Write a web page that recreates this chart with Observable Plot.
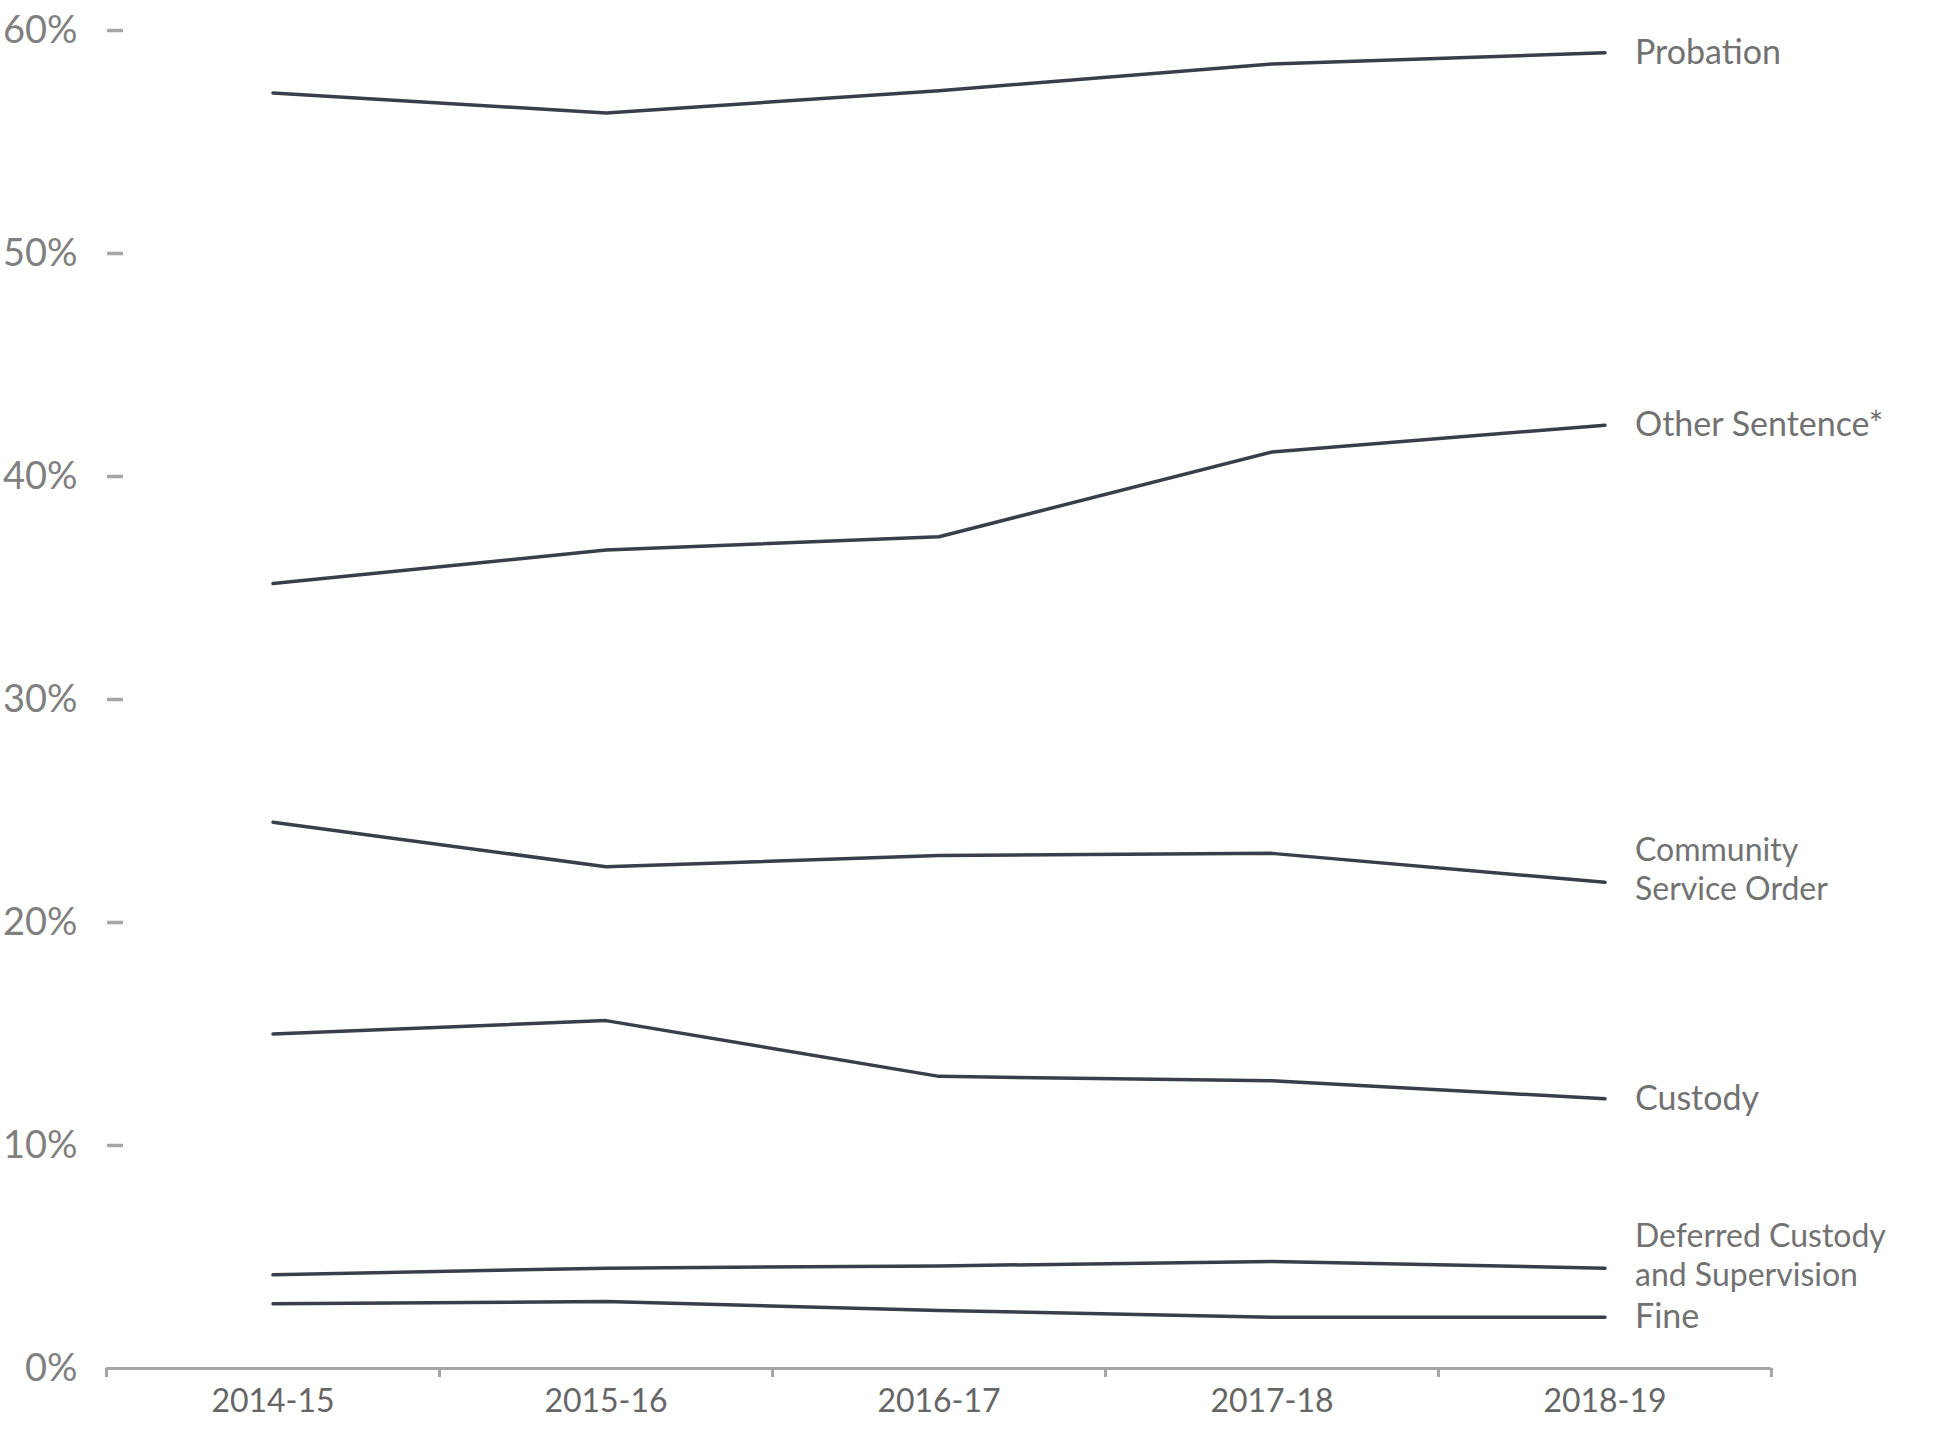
<!DOCTYPE html>
<html>
<head>
<meta charset="utf-8">
<script src="https://cdn.jsdelivr.net/npm/d3@7"></script>
<script src="https://cdn.jsdelivr.net/npm/@observablehq/plot@0.6"></script>
<style>
  html, body { margin: 0; padding: 0; background: #ffffff; }
  #chart svg { display: block; }
</style>
</head>
<body>
<div id="chart"></div>
<script>
// Financial years (categories)
const years = ["2014-15", "2015-16", "2016-17", "2017-18", "2018-19"];

// Series values (% of sentences)
const probation = [57.2, 56.3, 57.3, 58.5, 59.0];
const otherSentence = [35.2, 36.7, 37.3, 41.1, 42.3];
const communityServiceOrder = [24.5, 22.5, 23.0, 23.1, 21.8];
const custody = [15.0, 15.6, 13.1, 12.9, 12.1];
const deferredCustody = [4.2, 4.5, 4.6, 4.8, 4.5];
const fine = [2.9, 3.0, 2.6, 2.3, 2.3];

// Series names (end labels)
const seriesNames = [
  "Probation",
  "Other Sentence*",
  "Community\nService Order",
  "Custody",
  "Deferred Custody\nand Supervision",
  "Fine"
];
const seriesValues = [probation, otherSentence, communityServiceOrder, custody, deferredCustody, fine];

// Y tick values
const yTicks = [0, 10, 20, 30, 40, 50, 60];

// Long-format table built from the arrays above
const rows = [];
seriesNames.forEach((name, i) => {
  years.forEach((yr, j) => rows.push({series: name, year: yr, value: seriesValues[i][j]}));
});
const endRows = seriesNames.map((name, i) => ({series: name, year: years[years.length - 1], value: seriesValues[i][years.length - 1]}));
const singleLine = endRows.filter(d => !d.series.includes("\n"));
const twoLine = endRows.filter(d => d.series.includes("\n"));

const W = 1950, H = 1435;
const mL = 106, mR = 179, mT = 30, mB = 67;
const bw = (W - mL - mR) / years.length;

const lineColor = "#383f4b";
const axisGray = "#a6a6a6";
const labelStyle = {x: "year", y: "value", text: "series", textAnchor: "start", dx: 30, fontSize: 34, fill: "#727272"};

const chart = Plot.plot({
  width: W,
  height: H,
  marginLeft: mL,
  marginRight: mR,
  marginTop: mT,
  marginBottom: mB,
  style: {fontFamily: "Lato, 'Open Sans', sans-serif", background: "#ffffff"},
  x: {type: "band", domain: years, padding: 0, label: null},
  y: {domain: [0, 60], label: null},
  marks: [
    // y tick labels
    Plot.axisY({
      ticks: yTicks, tickSize: 0, tickPadding: 29,
      tickFormat: d => d + "%", fontSize: 38, fill: "#808080", label: null
    }),
    // y tick marks (small dashes to the right of the labels)
    Plot.axisY({
      ticks: yTicks.filter(d => d > 0), tickSize: -16, text: null, dx: 1,
      stroke: axisGray, strokeWidth: 3.5, label: null
    }),
    // x axis line
    Plot.ruleY([0], {stroke: axisGray, strokeWidth: 3}),
    // x tick marks at band boundaries
    Plot.ruleX(years, {x: d => d, y1: 0, y2: 0, insetBottom: -9, dx: -bw / 2, stroke: axisGray, strokeWidth: 3}),
    Plot.ruleX([years[years.length - 1]], {x: d => d, y1: 0, y2: 0, insetBottom: -9, dx: bw / 2, stroke: axisGray, strokeWidth: 3}),
    // x labels
    Plot.axisX({tickSize: 0, tickPadding: 21, fontSize: 32, fill: "#666666", label: null}),
    // series lines
    Plot.line(rows, {x: "year", y: "value", z: "series", stroke: lineColor, strokeWidth: 3.5, strokeLinecap: "round", strokeLinejoin: "round"}),
    // end labels
    Plot.text(singleLine, {...labelStyle, lineAnchor: "middle", dy: 0}),
    Plot.text(twoLine, {...labelStyle, fontSize: 32, lineAnchor: "middle", lineHeight: 1.2, dy: -14})
  ]
});

document.getElementById("chart").appendChild(chart);
</script>
</body>
</html>
